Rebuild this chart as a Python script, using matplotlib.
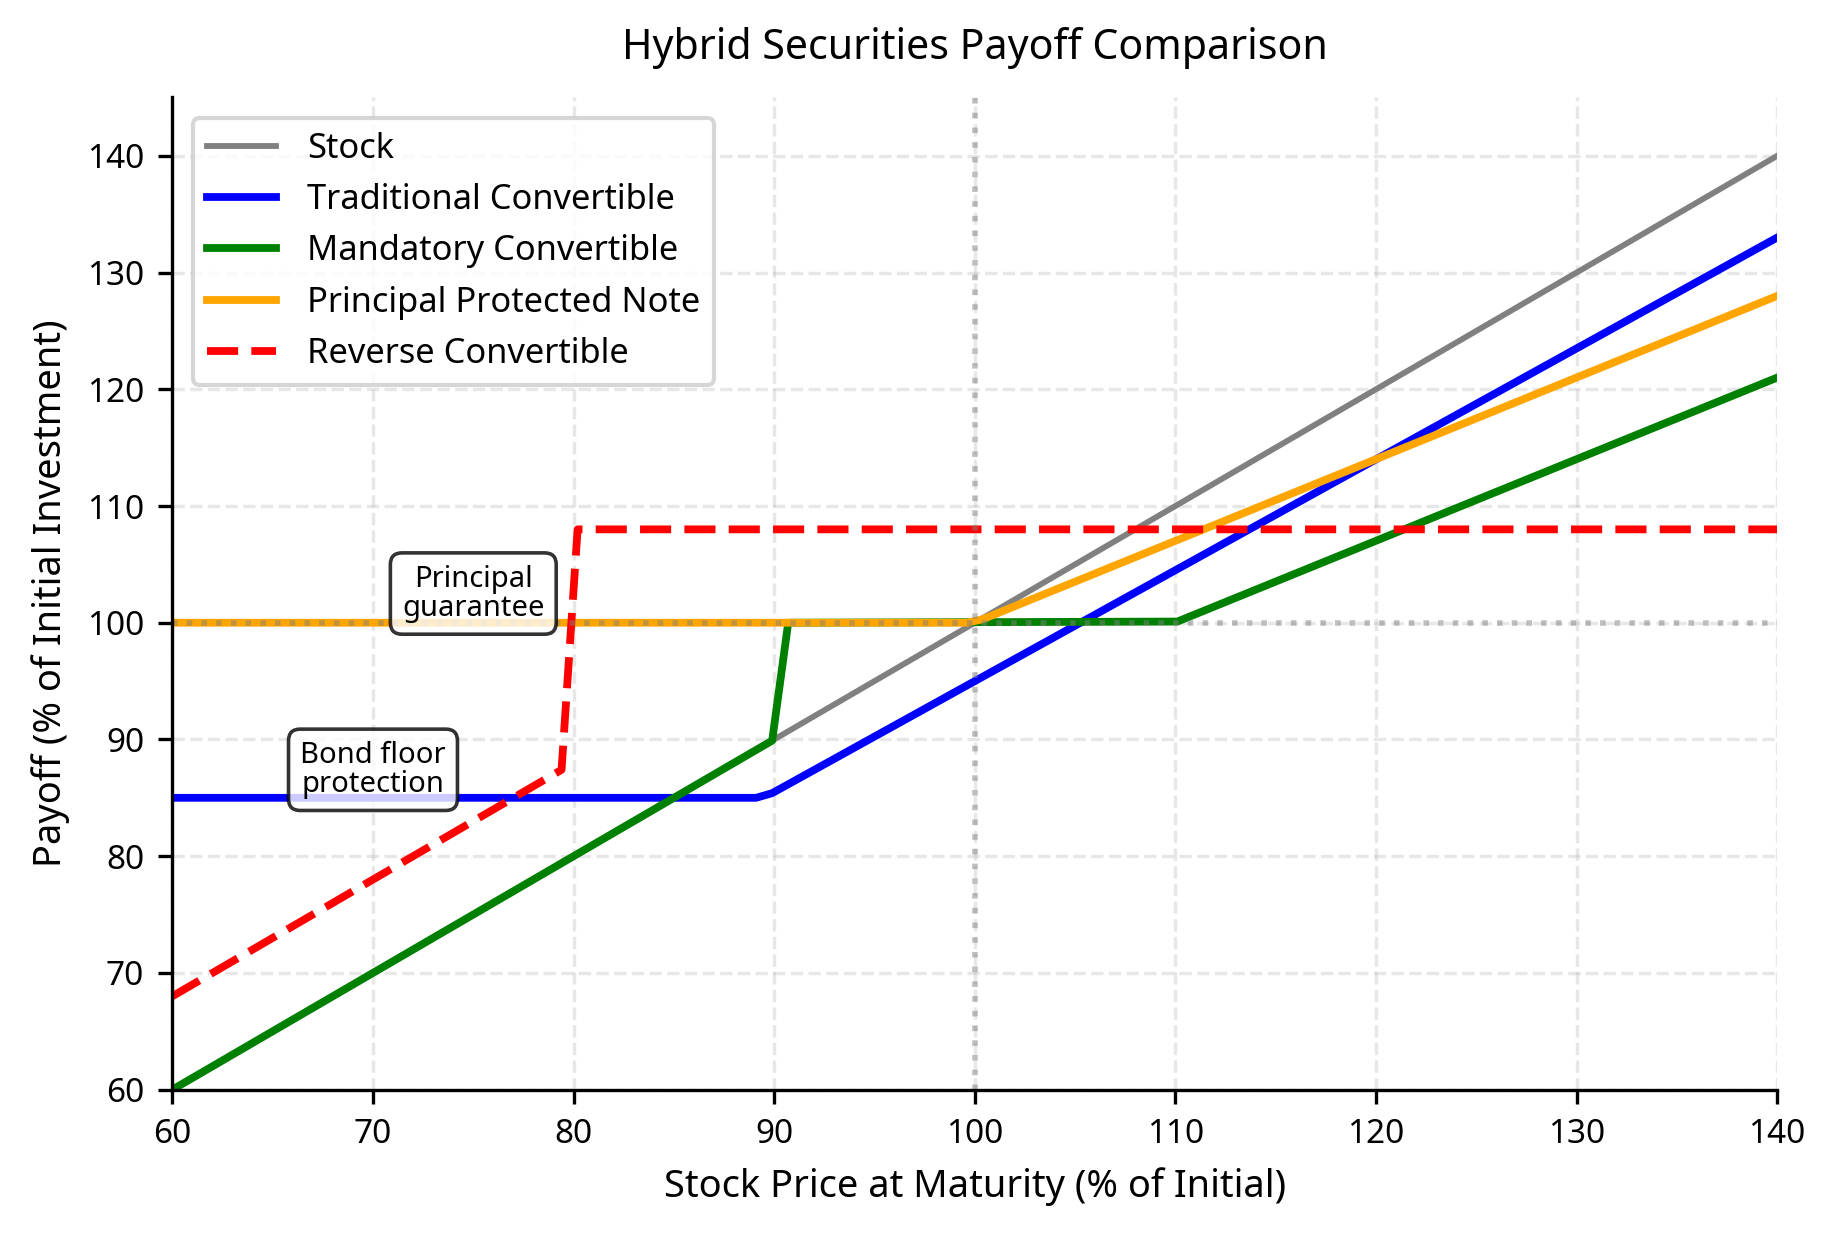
import matplotlib
matplotlib.use('Agg')
import numpy as np
import matplotlib.pyplot as plt

plt.rcParams['font.family'] = ['Noto Sans', 'DejaVu Sans']

# breakpoints of each payoff line
stock_x = [60, 140]
stock_y = [60, 140]

trad_x = [60, 89.1, 89.9, 140]
trad_y = [85, 85, 85.4, 133]

mand_x = [60, 89.9, 90.7, 110.1, 140]
mand_y = [60, 89.9, 100, 100.1, 121]

ppn_x = [60, 99.6, 100.4, 140]
ppn_y = [100, 100, 100.3, 128]

rev_x = [60, 79.4, 80.2, 140]
rev_y = [68, 87.4, 108, 108]

fig = plt.figure(figsize=(9.17, 6.17), dpi=200)
ax = fig.add_axes([0.094, 0.117, 0.875, 0.804])

ax.plot(stock_x, stock_y, color='gray', lw=2.1, label='Stock')
ax.plot(trad_x, trad_y, color='blue', lw=2.8, label='Traditional Convertible')
ax.plot(mand_x, mand_y, color='green', lw=2.8, label='Mandatory Convertible')
ax.plot(ppn_x, ppn_y, color='orange', lw=2.8, label='Principal Protected Note')
ax.plot(rev_x, rev_y, color='red', lw=2.8, ls='--', dashes=(4.0, 1.7),
        label='Reverse Convertible')

ax.axhline(100, color='gray', ls=':', lw=2.0, alpha=0.5)
ax.axvline(100, color='gray', ls=':', lw=2.0, alpha=0.5)

box = dict(boxstyle='round,pad=0.4', facecolor='white', edgecolor='black',
           lw=1.3, alpha=0.8)
ax.text(70, 87.4, 'Bond floor\nprotection', ha='center', va='center', fontsize=10.5,
        linespacing=1.0, bbox=box)
ax.text(75, 102.5, 'Principal\nguarantee', ha='center', va='center', fontsize=10.5,
        linespacing=1.0, bbox=box)

ax.set_xlim(60, 140)
ax.set_ylim(60, 145)
ax.set_xticks(np.arange(60, 141, 10))
ax.set_yticks(np.arange(60, 141, 10))
ax.tick_params(labelsize=12, length=5.2, width=1.2, pad=5)
ax.grid(True, ls='--', lw=1.2, alpha=0.3)
ax.spines['top'].set_visible(False)
ax.spines['right'].set_visible(False)
ax.spines['left'].set_linewidth(1.2)
ax.spines['bottom'].set_linewidth(1.2)

ax.set_xlabel('Stock Price at Maturity (% of Initial)', fontsize=13.7, labelpad=6)
ax.set_ylabel('Payoff (% of Initial Investment)', fontsize=13.7, labelpad=6)
ax.set_title('Hybrid Securities Payoff Comparison', fontsize=14.8, pad=14)
leg = ax.legend(loc='upper left', fontsize=12.4, labelspacing=0.5,
                handletextpad=0.9, borderaxespad=0.6)
leg.get_frame().set_linewidth(1.5)

fig.savefig('out.png', dpi=200)
